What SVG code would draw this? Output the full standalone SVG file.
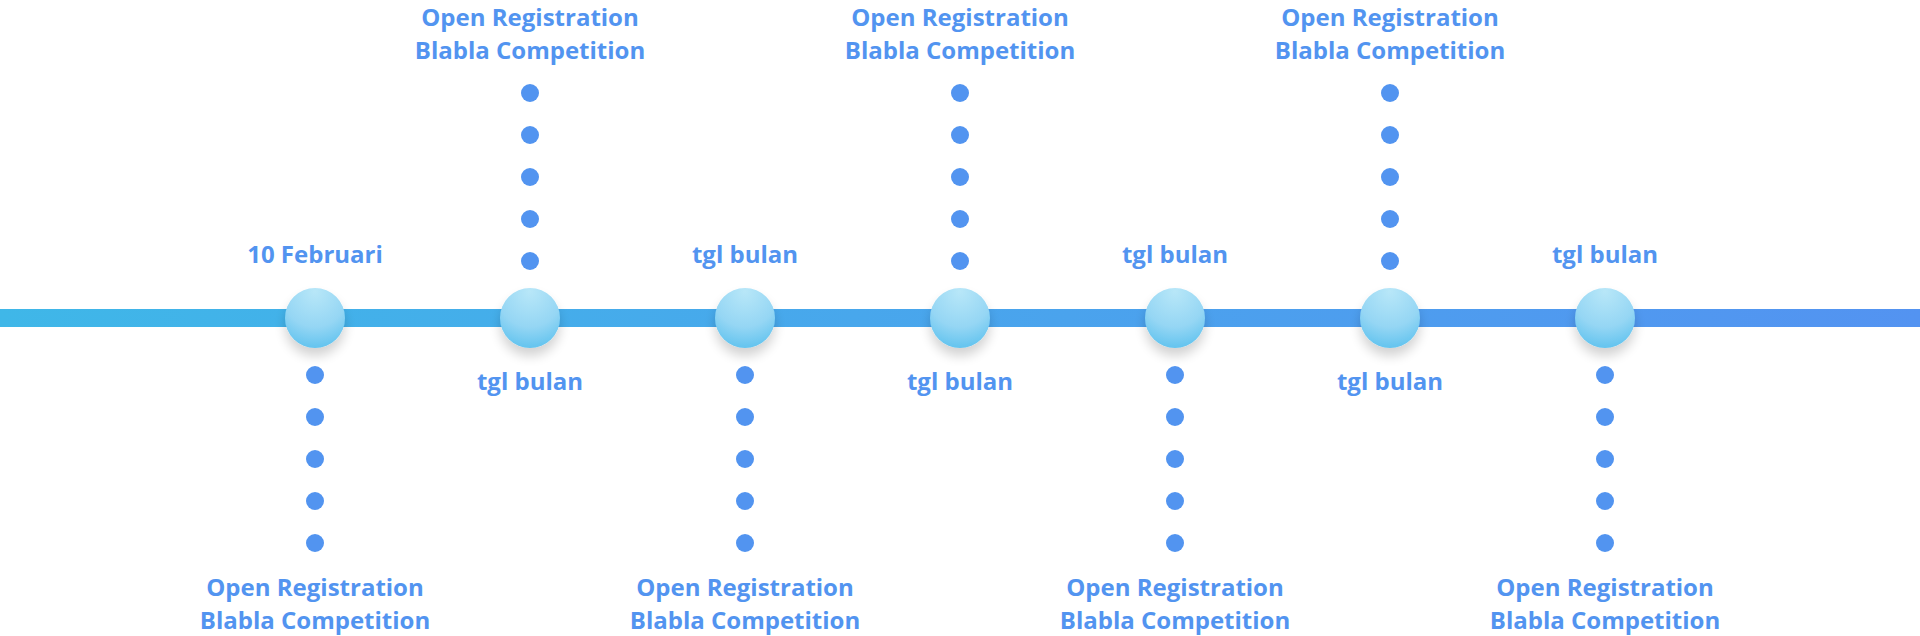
<svg xmlns="http://www.w3.org/2000/svg" width="1920" height="636" viewBox="0 0 1920 636">
<defs>
<linearGradient id="lineGrad" x1="0" y1="0" x2="1" y2="0">
<stop offset="0" stop-color="#3fb7e8"/>
<stop offset="1" stop-color="#5393f1"/>
</linearGradient>
<radialGradient id="ballGrad" cx="0.5" cy="0.15" r="0.9" fx="0.5" fy="0.05">
<stop offset="0" stop-color="#b8e7f8"/>
<stop offset="0.6" stop-color="#95d6f4"/>
<stop offset="1" stop-color="#5cc1ee"/>
</radialGradient>
<filter id="shadow" x="-60%" y="-60%" width="220%" height="240%">
<feGaussianBlur in="SourceAlpha" stdDeviation="6"/>
<feOffset dy="8" result="b"/>
<feComponentTransfer><feFuncA type="linear" slope="0.18"/></feComponentTransfer>
<feMerge><feMergeNode/><feMergeNode in="SourceGraphic"/></feMerge>
</filter>
<g id="dotsDown">
<circle cx="0" cy="375" r="9"/>
<circle cx="0" cy="417" r="9"/>
<circle cx="0" cy="459" r="9"/>
<circle cx="0" cy="501" r="9"/>
<circle cx="0" cy="543" r="9"/>
</g>
<g id="dotsUp">
<circle cx="0" cy="93" r="9"/>
<circle cx="0" cy="135" r="9"/>
<circle cx="0" cy="177" r="9"/>
<circle cx="0" cy="219" r="9"/>
<circle cx="0" cy="261" r="9"/>
</g>
</defs>
<style>
text{font-family:"Open Sans","Noto Sans","Liberation Sans",sans-serif;font-weight:700;font-size:24px;fill:#5294f0;text-anchor:middle}
.ball{fill:url(#ballGrad);filter:url(#shadow)}
</style>
<g id="connectors">
<rect x="0" y="309" width="1920" height="18" fill="url(#lineGrad)"/>
<g class="dots" fill="#5294f0">
<use href="#dotsDown" x="315"/>
<use href="#dotsUp" x="530"/>
<use href="#dotsDown" x="745"/>
<use href="#dotsUp" x="960"/>
<use href="#dotsDown" x="1175"/>
<use href="#dotsUp" x="1390"/>
<use href="#dotsDown" x="1605"/>
</g>
</g>
<g id="node1">
<circle class="ball" cx="315" cy="318" r="30"/>
<text x="315" y="263">10 Februari</text>
<text x="315" y="596">Open Registration</text>
<text x="315" y="629">Blabla Competition</text>
</g>
<g id="node2">
<circle class="ball" cx="530" cy="318" r="30"/>
<text x="530" y="390">tgl bulan</text>
<text x="530" y="26">Open Registration</text>
<text x="530" y="59">Blabla Competition</text>
</g>
<g id="node3">
<circle class="ball" cx="745" cy="318" r="30"/>
<text x="745" y="263">tgl bulan</text>
<text x="745" y="596">Open Registration</text>
<text x="745" y="629">Blabla Competition</text>
</g>
<g id="node4">
<circle class="ball" cx="960" cy="318" r="30"/>
<text x="960" y="390">tgl bulan</text>
<text x="960" y="26">Open Registration</text>
<text x="960" y="59">Blabla Competition</text>
</g>
<g id="node5">
<circle class="ball" cx="1175" cy="318" r="30"/>
<text x="1175" y="263">tgl bulan</text>
<text x="1175" y="596">Open Registration</text>
<text x="1175" y="629">Blabla Competition</text>
</g>
<g id="node6">
<circle class="ball" cx="1390" cy="318" r="30"/>
<text x="1390" y="390">tgl bulan</text>
<text x="1390" y="26">Open Registration</text>
<text x="1390" y="59">Blabla Competition</text>
</g>
<g id="node7">
<circle class="ball" cx="1605" cy="318" r="30"/>
<text x="1605" y="263">tgl bulan</text>
<text x="1605" y="596">Open Registration</text>
<text x="1605" y="629">Blabla Competition</text>
</g>
</svg>
